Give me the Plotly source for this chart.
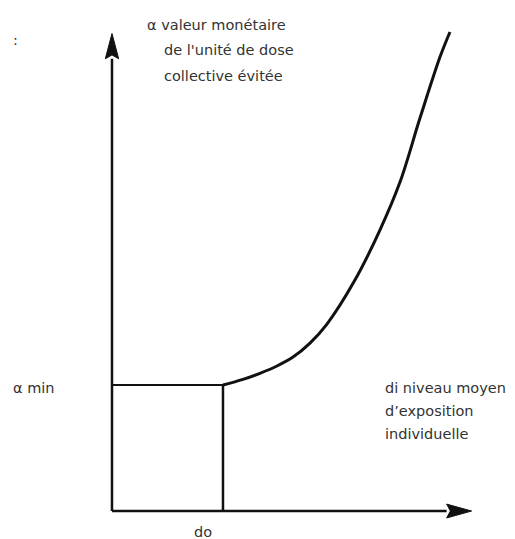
import plotly.graph_objects as go

# Schematic: monetary value of the avoided collective dose unit vs. mean individual exposure
# units: x in multiples of do, y in multiples of alpha min
d0 = 1.0
alpha_min = 1.0
x_axis_end = 3.24
y_axis_end = 3.79

curve_x = [1.0, 1.18, 1.333, 1.486, 1.631, 1.784, 1.937, 2.189, 2.414, 2.595, 2.775, 2.955, 3.045]
curve_y = [1.0, 1.045, 1.093, 1.151, 1.222, 1.333, 1.484, 1.833, 2.230, 2.611, 3.119, 3.603, 3.802]

y_label = ["α valeur monétaire", "de l'unité de dose", "collective évitée"]
x_label = ["di niveau moyen", "d’exposition", "individuelle"]

ink = "#111111"
txt = "#333333"
font = dict(family="DejaVu Sans, Liberation Sans, sans-serif", size=14.5, color=txt)

fig = go.Figure()

# axes
head_lx, head_wx = 0.225, 0.055   # x-axis arrow head (length in x, half width in y)
head_ly, head_wy = 0.20, 0.06     # y-axis arrow head (length in y, half width in x)
fig.add_trace(go.Scatter(x=[0, x_axis_end - head_lx], y=[0, 0], mode="lines",
                         line=dict(color=ink, width=2.5), hoverinfo="skip"))
fig.add_trace(go.Scatter(x=[0, 0], y=[0, y_axis_end - head_ly], mode="lines",
                         line=dict(color=ink, width=2.5), hoverinfo="skip"))
fig.add_trace(go.Scatter(
    x=[x_axis_end, x_axis_end - head_lx, x_axis_end - head_lx * 0.85, x_axis_end - head_lx, x_axis_end],
    y=[0, head_wx, 0, -head_wx, 0],
    mode="lines", fill="toself", fillcolor=ink, line=dict(color=ink, width=1), hoverinfo="skip"))
fig.add_trace(go.Scatter(
    x=[0, head_wy, 0, -head_wy, 0],
    y=[y_axis_end, y_axis_end - head_ly, y_axis_end - head_ly * 0.85, y_axis_end - head_ly, y_axis_end],
    mode="lines", fill="toself", fillcolor=ink, line=dict(color=ink, width=1), hoverinfo="skip"))

# reference lines at do and alpha min
fig.add_trace(go.Scatter(x=[0, d0], y=[alpha_min, alpha_min], mode="lines",
                         line=dict(color=ink, width=2), hoverinfo="skip"))
fig.add_trace(go.Scatter(x=[d0, d0], y=[0, alpha_min], mode="lines",
                         line=dict(color=ink, width=2.5), hoverinfo="skip"))

# curve
fig.add_trace(go.Scatter(x=curve_x, y=curve_y, mode="lines",
                         line=dict(color=ink, width=3, shape="spline", smoothing=1.0),
                         hoverinfo="skip"))

ann = []
ann.append(dict(x=0.297, y=3.86, text=y_label[0], xanchor="left", yanchor="middle"))
ann.append(dict(x=0.45, y=3.66, text=y_label[1], xanchor="left", yanchor="middle"))
ann.append(dict(x=0.45, y=3.455, text=y_label[2], xanchor="left", yanchor="middle"))
for i, t in enumerate(x_label):
    ann.append(dict(x=2.44, y=0.976 - i * 0.183, text=t, xanchor="left", yanchor="middle"))
ann.append(dict(x=-0.91, y=0.976, text="α min", xanchor="left", yanchor="middle"))
ann.append(dict(x=0.82, y=-0.167, text="do", xanchor="center", yanchor="middle"))
ann.append(dict(x=-0.91, y=3.74, text=":", xanchor="left", yanchor="middle"))
for a in ann:
    a.update(xref="x", yref="y", showarrow=False, font=font)

fig.update_layout(
    width=515, height=539,
    margin=dict(l=0, r=0, t=0, b=0),
    paper_bgcolor="white", plot_bgcolor="white",
    showlegend=False,
    annotations=ann,
    xaxis=dict(range=[-1.009, 3.631], visible=False, fixedrange=True),
    yaxis=dict(range=[-0.222, 4.056], visible=False, fixedrange=True),
)

fig.write_html("out.html", config={"displayModeBar": False},
               post_script="document.body.style.margin='0';")
